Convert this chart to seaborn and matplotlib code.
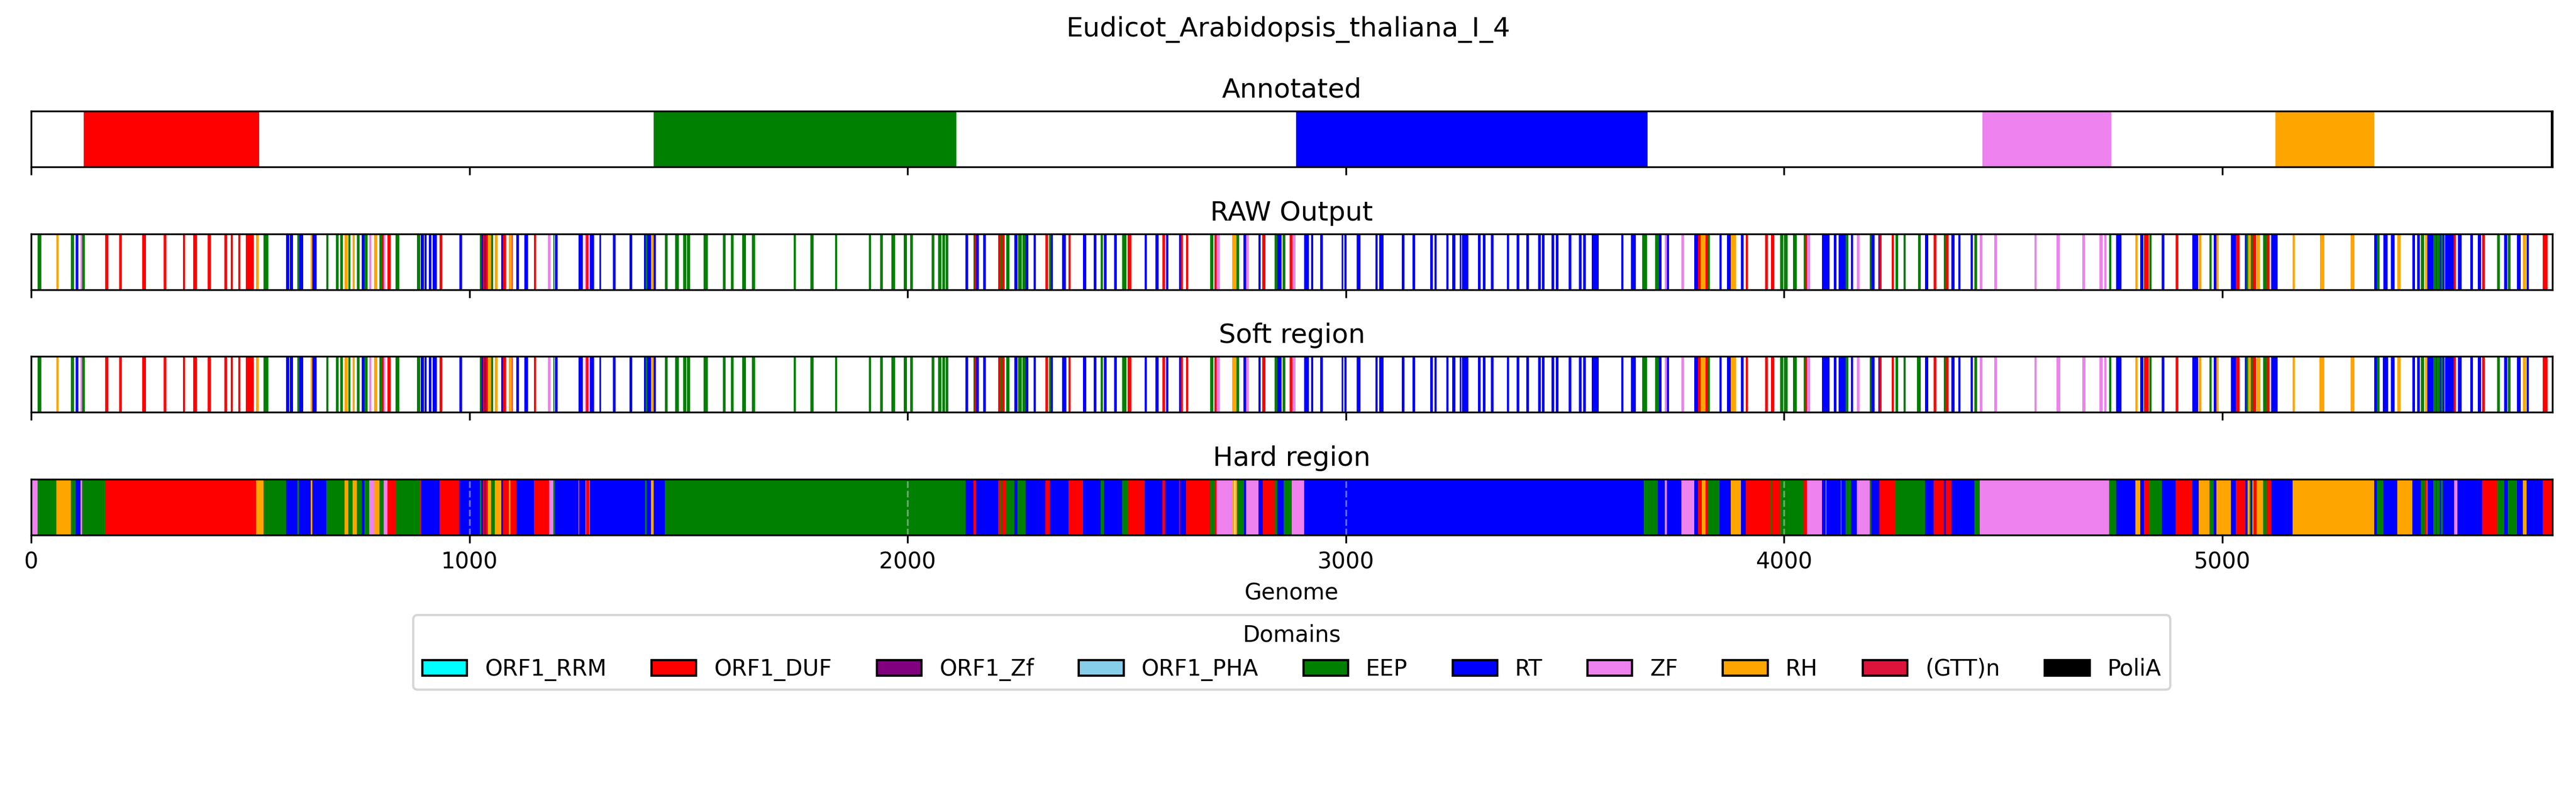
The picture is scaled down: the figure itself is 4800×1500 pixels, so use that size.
import matplotlib
matplotlib.use('Agg')
import matplotlib.pyplot as plt
from matplotlib.patches import Patch
import seaborn as sns

genome_length = 5753
tick_positions = [0, 1000, 2000, 3000, 4000, 5000]
dashed_positions = [1000, 2000, 3000, 4000]

domain_names = ['ORF1_RRM', 'ORF1_DUF', 'ORF1_Zf', 'ORF1_PHA', 'EEP', 'RT', 'ZF', 'RH', '(GTT)n', 'PoliA']
domain_colors = ['cyan', 'red', 'purple', 'skyblue', 'green', 'blue', 'violet', 'orange', 'crimson', 'black']

# Annotated domains (start, end)
annotated_duf = [(120, 521)]
annotated_eep = [(1421, 2111)]
annotated_rt = [(2886, 3689)]
annotated_zf = [(4453, 4746)]
annotated_rh = [(5121, 5346)]
annotated_polia = [(5749, 5753)]

# RAW output segments (start, end)
raw_eep = [(15, 23), (91, 98), (116, 122), (532, 541), (607, 612), (674, 679), (696, 702), (705, 711), (724, 729),
           (743, 750), (760, 768), (795, 801), (832, 840), (881, 888), (1024, 1028), (1050, 1054), (1191, 1194),
           (1402, 1406), (1446, 1452), (1469, 1478), (1488, 1495), (1497, 1504), (1535, 1544), (1579, 1585),
           (1597, 1603), (1622, 1631), (1644, 1652), (1740, 1745), (1778, 1785), (1834, 1839), (1912, 1916),
           (1937, 1943), (1963, 1971), (1991, 1999), (2006, 2012), (2055, 2061), (2070, 2077), (2079, 2086),
           (2087, 2093), (2150, 2157), (2211, 2216), (2225, 2233), (2252, 2260), (2262, 2269), (2323, 2329),
           (2440, 2446), (2489, 2499), (2690, 2698), (2751, 2757), (2837, 2844), (2856, 2862), (3676, 3687),
           (3706, 3714), (3826, 3831), (3991, 3998), (4000, 4008), (4020, 4029), (4045, 4049), (4140, 4146),
           (4195, 4199), (4254, 4260), (4272, 4278), (4305, 4312), (4364, 4369), (4434, 4440), (4741, 4747),
           (4833, 4838), (4970, 4975), (5055, 5059), (5065, 5070), (5093, 5101), (5353, 5359), (5453, 5460),
           (5481, 5487), (5489, 5496), (5498, 5503), (5627, 5633), (5651, 5657)]
raw_duf = [(169, 176), (201, 207), (254, 262), (303, 309), (347, 352), (370, 378), (403, 410), (441, 447), (456, 460),
           (473, 478), (490, 508), (530, 532), (801, 808), (813, 820), (932, 938), (1031, 1035), (1037, 1042),
           (1076, 1084), (1095, 1099), (1147, 1152), (1266, 1271), (2152, 2156), (2207, 2211), (2216, 2221),
           (2314, 2320), (2367, 2372), (2502, 2510), (2581, 2588), (2623, 2628), (2635, 2640), (2700, 2705),
           (2809, 2816), (2872, 2878), (3804, 3810), (3821, 3826), (3913, 3918), (3956, 3963), (3970, 3978),
           (4049, 4052), (4218, 4222), (4245, 4250), (4341, 4347), (4369, 4375), (4821, 4832), (4893, 4900),
           (5031, 5039), (5070, 5077), (5101, 5108), (5528, 5533), (5593, 5599), (5731, 5742)]
raw_rt = [(102, 108), (582, 589), (590, 597), (612, 621), (642, 651), (754, 760), (889, 897), (898, 902), (907, 914),
          (916, 926), (977, 983), (1028, 1031), (1035, 1037), (1073, 1076), (1107, 1113), (1126, 1134), (1195, 1201),
          (1249, 1259), (1275, 1285), (1297, 1301), (1327, 1334), (1366, 1371), (1398, 1402), (1406, 1414),
          (1420, 1425), (2132, 2138), (2157, 2163), (2173, 2178), (2244, 2251), (2269, 2275), (2287, 2293),
          (2327, 2331), (2352, 2361), (2400, 2408), (2425, 2431), (2448, 2454), (2471, 2477), (2541, 2546),
          (2566, 2573), (2590, 2595), (2619, 2623), (2766, 2773), (2801, 2806), (2844, 2853), (2905, 2916),
          (2920, 2926), (2942, 2947), (2991, 2994), (2996, 3002), (3025, 3033), (3067, 3073), (3076, 3086),
          (3127, 3134), (3152, 3158), (3192, 3198), (3202, 3207), (3229, 3234), (3243, 3250), (3260, 3264),
          (3265, 3279), (3302, 3308), (3313, 3319), (3331, 3337), (3368, 3373), (3389, 3396), (3412, 3418),
          (3438, 3445), (3447, 3453), (3469, 3475), (3479, 3485), (3509, 3515), (3532, 3538), (3541, 3547),
          (3561, 3577), (3628, 3633), (3650, 3661), (3714, 3720), (3732, 3737), (3795, 3804), (3853, 3858),
          (3870, 3878), (3901, 3908), (4086, 4104), (4113, 4120), (4124, 4130), (4131, 4140), (4152, 4158),
          (4199, 4206), (4215, 4221), (4321, 4329), (4382, 4389), (4397, 4402), (4425, 4430), (4757, 4770),
          (4813, 4820), (4862, 4868), (4931, 4937), (4938, 4945), (4980, 4988), (5020, 5027), (5027, 5031),
          (5051, 5055), (5111, 5117), (5118, 5126), (5347, 5353), (5367, 5377), (5385, 5393), (5433, 5440),
          (5445, 5451), (5468, 5481), (5487, 5489), (5496, 5498), (5503, 5507), (5508, 5521), (5522, 5528),
          (5537, 5546), (5566, 5572), (5583, 5590), (5643, 5650), (5672, 5681), (5694, 5699)]
raw_zf = [(113, 116), (771, 777), (804, 808), (1179, 1186), (1264, 1266), (1271, 1273), (2705, 2712), (2773, 2779),
          (2878, 2885), (3727, 3732), (3765, 3772), (4052, 4059), (4166, 4172), (4446, 4452), (4480, 4486),
          (4571, 4576), (4621, 4629), (4680, 4687), (4719, 4727), (4731, 4735)]
raw_rh = [(58, 63), (513, 519), (638, 642), (715, 723), (733, 738), (783, 790), (1042, 1049), (1058, 1064),
          (1090, 1097), (1415, 1420), (2741, 2751), (3810, 3821), (3878, 3890), (4801, 4807), (4946, 4952),
          (4987, 4991), (5059, 5065), (5078, 5086), (5160, 5165), (5223, 5233), (5293, 5301), (5399, 5406),
          (5463, 5468), (5686, 5693)]

# Soft region is the raw output with a few segments slightly longer
soft_extra_eep = [(4303, 4312)]
soft_extra_rt = [(4980, 4989), (5366, 5378), (2352, 2362)]
soft_extra_zf = [(4621, 4630), (4680, 4688)]
soft_extra_rh = [(5078, 5087), (5222, 5233)]

# Hard region segments (start, end)
hard_eep = [(15, 58), (91, 102), (116, 169), (532, 582), (607, 611), (674, 715), (724, 733), (743, 754), (760, 771),
            (795, 804), (832, 888), (1024, 1028), (1050, 1058), (1191, 1195), (1401, 1405), (1446, 2132), (2211, 2216),
            (2225, 2244), (2251, 2269), (2323, 2325), (2440, 2448), (2489, 2503), (2690, 2700), (2752, 2767),
            (2837, 2844), (2858, 2875), (3680, 3712), (3826, 3853), (3970, 3972), (3991, 4045), (4140, 4152),
            (4195, 4199), (4254, 4321), (4434, 4446), (4741, 4757), (4833, 4862), (4970, 4980), (5062, 5065),
            (5093, 5101), (5353, 5367), (5453, 5463), (5481, 5487), (5489, 5496), (5498, 5503), (5627, 5643),
            (5651, 5672)]
hard_duf = [(169, 513), (530, 532), (813, 832), (888, 890), (932, 977), (1031, 1035), (1037, 1042), (1076, 1090),
            (1094, 1107), (1147, 1182), (1266, 1273), (2150, 2157), (2207, 2211), (2216, 2225), (2314, 2324),
            (2367, 2400), (2503, 2541), (2581, 2588), (2619, 2622), (2635, 2690), (2700, 2705), (2810, 2837),
            (2875, 2877), (3804, 3812), (3821, 3826), (3913, 3970), (3972, 3991), (4045, 4052), (4218, 4254),
            (4341, 4364), (4369, 4382), (4821, 4833), (4893, 4931), (5031, 5052), (5071, 5078), (5101, 5111),
            (5463, 5466), (5530, 5534), (5593, 5627), (5731, 5753)]
hard_rt = [(102, 113), (582, 607), (611, 638), (642, 674), (754, 760), (890, 932), (977, 1024), (1028, 1031),
           (1035, 1037), (1073, 1076), (1107, 1147), (1195, 1249), (1250, 1265), (1275, 1401), (1405, 1415),
           (1420, 1446), (2132, 2150), (2157, 2207), (2244, 2251), (2269, 2314), (2324, 2367), (2400, 2440),
           (2448, 2489), (2541, 2581), (2588, 2619), (2622, 2635), (2767, 2773), (2801, 2810), (2844, 2858),
           (2905, 3680), (3712, 3727), (3733, 3765), (3795, 3804), (3853, 3878), (3901, 3913), (4086, 4095),
           (4096, 4129), (4131, 4140), (4152, 4166), (4199, 4218), (4321, 4341), (4364, 4369), (4382, 4434),
           (4757, 4801), (4813, 4821), (4862, 4893), (4931, 4946), (4980, 4986), (5020, 5031), (5052, 5057),
           (5065, 5068), (5111, 5160), (5347, 5353), (5367, 5399), (5433, 5453), (5466, 5481), (5487, 5489),
           (5496, 5498), (5503, 5529), (5536, 5593), (5643, 5651), (5672, 5686), (5694, 5731)]
hard_zf = [(0, 15), (113, 116), (771, 783), (804, 813), (1182, 1191), (1249, 1250), (1265, 1266), (1273, 1275),
           (2705, 2741), (2773, 2801), (2877, 2905), (3727, 3733), (3765, 3795), (4052, 4086), (4129, 4131),
           (4166, 4195), (4446, 4741), (5529, 5536)]
hard_rh = [(58, 91), (513, 530), (638, 642), (715, 724), (733, 743), (783, 795), (1042, 1050), (1058, 1073),
           (1090, 1094), (1415, 1420), (2741, 2746), (2748, 2752), (3812, 3821), (3878, 3901), (4801, 4813),
           (4946, 4970), (4986, 5020), (5057, 5062), (5068, 5071), (5078, 5093), (5160, 5347), (5399, 5433),
           (5466, 5468), (5686, 5694)]


def draw_segments(ax, segments, color):
    for start, end in segments:
        ax.barh(0.5, end - start, left=start, height=1, color=color, linewidth=0)


sns.set_theme(style='ticks', context='notebook', rc={
    'font.family': 'DejaVu Sans',
    'font.size': 10,
    'axes.titlesize': 12,
    'axes.labelsize': 10,
    'xtick.labelsize': 10,
    'legend.fontsize': 10,
    'legend.title_fontsize': 10,
    'figure.titlesize': 12,
    'axes.linewidth': 0.8,
    'xtick.major.width': 0.8,
    'xtick.major.size': 3.5,
    'axes.edgecolor': 'black',
    'text.color': 'black',
    'axes.labelcolor': 'black',
    'xtick.color': 'black',
})
color_of = dict(zip(domain_names, domain_colors))

fig, axes = plt.subplots(4, 1, figsize=(16, 5), sharex=True)

draw_segments(axes[0], annotated_duf, color_of['ORF1_DUF'])
draw_segments(axes[0], annotated_eep, color_of['EEP'])
draw_segments(axes[0], annotated_rt, color_of['RT'])
draw_segments(axes[0], annotated_zf, color_of['ZF'])
draw_segments(axes[0], annotated_rh, color_of['RH'])
draw_segments(axes[0], annotated_polia, color_of['PoliA'])

draw_segments(axes[1], raw_eep, color_of['EEP'])
draw_segments(axes[1], raw_rt, color_of['RT'])
draw_segments(axes[1], raw_duf, color_of['ORF1_DUF'])
draw_segments(axes[1], raw_zf, color_of['ZF'])
draw_segments(axes[1], raw_rh, color_of['RH'])

draw_segments(axes[2], raw_eep + soft_extra_eep, color_of['EEP'])
draw_segments(axes[2], raw_rt + soft_extra_rt, color_of['RT'])
draw_segments(axes[2], raw_duf, color_of['ORF1_DUF'])
draw_segments(axes[2], raw_zf + soft_extra_zf, color_of['ZF'])
draw_segments(axes[2], raw_rh + soft_extra_rh, color_of['RH'])

draw_segments(axes[3], hard_eep, color_of['EEP'])
draw_segments(axes[3], hard_rt, color_of['RT'])
draw_segments(axes[3], hard_duf, color_of['ORF1_DUF'])
draw_segments(axes[3], hard_zf, color_of['ZF'])
draw_segments(axes[3], hard_rh, color_of['RH'])

for x in dashed_positions:
    axes[3].axvline(x, color='lightgray', linestyle='--', linewidth=0.8, alpha=0.5)

titles = ['Annotated', 'RAW Output', 'Soft region', 'Hard region']
for ax, title in zip(axes, titles):
    ax.set_title(title)
    ax.set_ylim(0, 1)
    ax.set_yticks([])
    sns.despine(ax=ax, top=False, right=False)

axes[3].set_xlim(0, genome_length)
axes[3].set_xticks(tick_positions)
axes[3].set_xlabel('Genome')

handles = [Patch(facecolor=c, edgecolor='black', label=n) for n, c in zip(domain_names, domain_colors)]
fig.legend(handles=handles, title='Domains', loc='upper center', bbox_to_anchor=(0.5015, 0.2497), ncol=10)
fig.suptitle('Eudicot_Arabidopsis_thaliana_I_4', x=0.5, y=0.98)

fig.subplots_adjust(left=0.01208, right=0.99083, top=0.862, bottom=0.3353, hspace=1.2)
fig.savefig('out.png', dpi=300)
